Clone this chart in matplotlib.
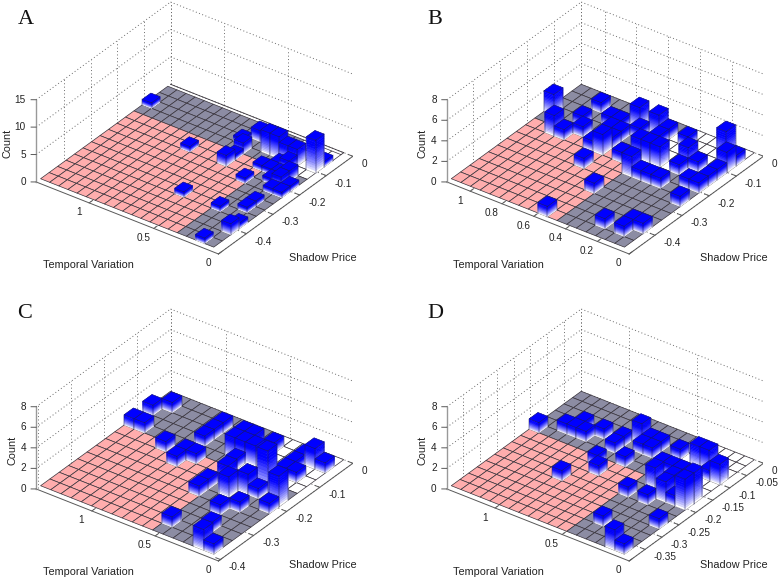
import numpy as np
import matplotlib
matplotlib.use('Agg')
import matplotlib.pyplot as plt
from mpl_toolkits.mplot3d import proj3d
from mpl_toolkits.mplot3d.art3d import Poly3DCollection

plt.rcParams['font.family'] = ['Liberation Sans']

# bars: histogram bin index along each axis (0 = front corner) and count
tv_a = [18,11,7,1,3,0,0,7,8,7,7,7,4,4,2,1,1,0,0,1,1,1,2,3,3,2,0,0,2,3,4,5]
sp_a = [12,9,4,0,4,2,3,13,12,10,11,9,10,8,9,9,8,8,9,5,6,10,10,10,11,11,12,13,12,12,12,12]
n_a = [1,1,1,1,1,2,1,2,1,1,2,2,1,1,1,2,1,1,1,1,1,2,1,1,1,2,6,1,3,3,4,4]

tv_b = [17,15,14,14,13,14,12,11,10,8,11,10,10,9,7,7,5,3,3,2,0,1,0,0,0,0,1,0,3,4,5,6,8,6,5,7,10,11,10,7,8,3,1,1,0]
sp_b = [10,8,8,10,9,12,11,11,12,12,10,10,9,11,12,11,12,10,9,10,11,12,12,10,9,8,8,6,7,7,7,7,8,9,9,9,8,8,6,4,0,1,1,2,2]
n_b = [2,2,1,1,1,1,1,1,2,2,1,1,1,1,1,1,1,2,1,1,2,3,1,1,1,1,1,1,1,1,1,2,1,2,2,2,2,1,1,1,1,1,1,1,1]

tv_c = [16,15,16,15,12,10,10,9,10,10,10,7,7,5,6,6,5,2,6,5,4,3,3,2,0,1,2,3,2,0,2,1,0,2,5,2,1,0,6,6]
sp_c = [11,12,9,9,8,7,8,8,10,11,12,10,11,12,11,10,10,8,9,7,6,7,8,7,7,10,10,4,5,6,11,12,12,12,1,2,0,0,5,6]
n_c = [1,1,1,1,1,1,1,1,1,1,1,2,2,1,2,2,2,4,1,2,2,2,1,1,3,1,1,1,1,1,1,2,1,1,1,1,2,1,1,1]

tv_d = [17,15,14,13,14,12,10,10,8,9,8,7,8,7,5,3,2,0,1,10,9,11,5,4,0,1,0,3,4,2,0,0,3,4,3,5,1]
sp_d = [9,10,10,10,11,11,10,11,9,12,12,12,11,11,12,12,12,11,11,8,7,5,6,2,4,0,0,6,8,7,7,8,9,10,10,10,7]
n_d = [1,1,1,1,1,1,1,1,1,2,1,1,1,1,1,2,2,2,1,1,1,1,1,1,1,2,1,1,2,2,3,3,1,1,1,1,1]

PINK = (1.0, 0.68, 0.68)
GRAY = (0.55, 0.55, 0.64)
WHITE = (1, 1, 1)
EDGE = (0.22, 0.2, 0.23)
AXC = (0.35, 0.35, 0.35)
GRIDC = (0.42, 0.42, 0.42)

W = 325.0  # axes size in pixels


def draw_panel(px, py, letter, letter_x, letter_y, count_x, tv_max, sp_min, z_max, tv_ticks, sp_ticks, z_ticks,
               nx, ny, ic, jc, v1, tv, sp, counts):
    # px, py: shift of the panel from panel A, in pixels
    left = (27.6 + px) / 779
    bottom = 1 - (294.9 + py) / 582
    ax = fig.add_axes([left, bottom, W / 779, W / 582], projection='3d',
                      proj_type='ortho', computed_zorder=False)
    ax.set_box_aspect((1, 1, 0.43))
    ax.view_init(elev=32.4, azim=-53.6)
    ax.set_xlim(tv_max, 0)
    ax.set_ylim(sp_min, 0)
    ax.set_zlim(0, z_max)
    ax.set_xticks([])
    ax.set_yticks([])
    ax.set_zticks([])
    ax.set_axis_off()
    ax.patch.set_visible(False)

    def pt(u, v, z=0.0):
        return tv_max * u, sp_min * (1 - v), z

    def seg(p, q, **kw):
        ax.plot([p[0], q[0]], [p[1], q[1]], [p[2], q[2]], **kw)

    def label(p, s, ha):
        # tick labels stay flat, placed at the projected data point
        x2, y2, _ = proj3d.proj_transform(p[0], p[1], p[2], ax.get_proj())
        ax.text2D(x2, y2, s, transform=ax.transData, ha=ha, va='center', fontsize=7.2,
                  color='#222222', zorder=500)

    # dotted grid on the two back walls and under the floor
    dot = dict(color=GRIDC, lw=0.7, ls=(0, (1, 2.5)), zorder=1)
    for t in tv_ticks:
        seg((t, 0, 0), (t, 0, z_max), **dot)
        seg((t, 0, 0), (t, sp_min, 0), **dot)
    for s in sp_ticks:
        seg((tv_max, s, 0), (tv_max, s, z_max), **dot)
        if abs(s - sp_min) > 0.02:
            seg((tv_max, s, 0), (0, s, 0), **dot)
    seg((tv_max, 0, 0), (tv_max, 0, z_max), **dot)
    for z in z_ticks[1:]:
        seg((tv_max, sp_min, z), (tv_max, 0, z), **dot)
        seg((tv_max, 0, z), (0, 0, z), **dot)

    # coloured floor
    x_edges = np.linspace(0.05 * tv_max, tv_max, nx + 1)
    y_edges = np.linspace(sp_min * (1 - 0.033), sp_min * (1 - v1), ny + 1)
    cells = []
    colors = []
    for i in range(nx):
        for j in range(ny):
            cells.append([(x_edges[i], y_edges[j], 0), (x_edges[i + 1], y_edges[j], 0),
                          (x_edges[i + 1], y_edges[j + 1], 0), (x_edges[i], y_edges[j + 1], 0)])
            if i >= ic and j < jc:
                colors.append(PINK)
            elif i < ic and j >= jc:
                colors.append(WHITE)
            else:
                colors.append(GRAY)
    ax.add_collection3d(Poly3DCollection(cells, facecolors=colors, edgecolors=EDGE,
                                         linewidths=0.5, zorder=2))
    if v1 < 1:
        seg(pt(0.05, 1), pt(1, 1), color=EDGE, lw=0.6, zorder=2)
        seg(pt(0.05, v1), pt(0.05, 1), color=EDGE, lw=0.6, zorder=2)

    # axis lines and ticks
    ax_kw = dict(color=AXC, lw=0.7, zorder=3)
    seg(pt(1, 0), pt(0, 0), **ax_kw)
    seg(pt(0, 0), pt(0, 1), **ax_kw)
    seg(pt(1, 0), pt(1, 0, z_max), color=(0.6, 0.6, 0.6), lw=1.0, zorder=3)
    for t in tv_ticks:
        u = t / tv_max
        seg(pt(u, 0), pt(u, 0.025), **ax_kw)
        label(pt(u - 0.01, -0.09), f'{t:g}', 'center')
    for s in sp_ticks:
        v = 1 - s / sp_min
        seg(pt(0, v), pt(0.025, v), **ax_kw)
        label(pt(-0.069, v - 0.03), f'{s:g}', 'left')
    for z in z_ticks:
        seg(pt(1, 0, z), pt(1.018, -0.013, z), **ax_kw)
        label(pt(1.036, -0.027, z), f'{z:g}', 'right')

    # bars, painted from the back corner to the front corner
    order = sorted(range(len(counts)), key=lambda k: -(tv[k] + sp[k]))
    dx = x_edges[1] - x_edges[0]
    dy = y_edges[1] - y_edges[0]
    for rank, k in enumerate(order):
        x0 = x_edges[tv[k]]
        x1 = x0 + dx
        y0 = y_edges[sp[k]]
        y1 = y0 + dy
        h = counts[k]
        levels = np.linspace(0, h, 15)
        faces = []
        cols = []
        for a, b, f in zip(levels[:-1], levels[1:], np.linspace(0, 1, 14)):
            fade = max(0.0, 1 - 1.2 * f ** 0.8)
            c = (fade, fade, 1.0)
            faces.append([(x0, y0, a), (x1, y0, a), (x1, y0, b), (x0, y0, b)])
            cols.append(c)
            faces.append([(x0, y0, a), (x0, y1, a), (x0, y1, b), (x0, y0, b)])
            cols.append(c)
        faces.append([(x0, y0, h), (x1, y0, h), (x1, y1, h), (x0, y1, h)])
        cols.append((0, 0, 1))
        ax.add_collection3d(Poly3DCollection(faces, facecolors=cols, edgecolors=cols,
                                             linewidths=0.3, zorder=10 + rank))
        ec = dict(color=(0.1, 0.1, 0.35), lw=0.35, zorder=10 + rank)
        ax.plot([x0, x1, x1, x0, x0], [y0, y0, y1, y1, y0], [h] * 5, **ec)
        ax.plot([x0, x0], [y0, y0], [0, h], **ec)
        ax.plot([x1, x1], [y0, y0], [0, h], **ec)
        ax.plot([x0, x0], [y1, y1], [0, h], **ec)

    # labels in figure pixels
    def ftext(x, y, s, **kw):
        fig.text(x / 779, 1 - y / 582, s, ha='center', va='center', **kw)

    ftext(88 + px, 265 + py, 'Temporal Variation', fontsize=7.8, color='#222222')
    ftext(323 + px, 258 + py, 'Shadow Price', fontsize=7.8, color='#222222')
    ftext(count_x, 143 + py, 'Count', fontsize=7.8, rotation=90, color='#222222')
    ftext(letter_x, letter_y, letter, fontsize=16, family='Liberation Serif', color='#111111')


fig = plt.figure(figsize=(7.79, 5.82), dpi=100)

draw_panel(0, 0, 'A', 25.5, 19, 7.5, 1.41, -0.505, 15, [0, 0.5, 1], [0, -0.1, -0.2, -0.3, -0.4], [0, 5, 10, 15],
           19, 15, 4, 11, 0.98, tv_a, sp_a, n_a)
draw_panel(410.7, 0, 'B', 435, 19, 423, 1.147, -0.495, 8, [0, 0.2, 0.4, 0.6, 0.8, 1],
           [0, -0.1, -0.2, -0.3, -0.4], [0, 2, 4, 6, 8],
           18, 14, 7, 9, 1.0, tv_b, sp_b, n_b)
draw_panel(0, 307, 'C', 25, 314, 12.7, 1.44, -0.406, 8, [0, 0.5, 1], [0, -0.1, -0.2, -0.3, -0.4], [0, 2, 4, 6, 8],
           17, 14, 6, 9, 1.0, tv_c, sp_c, n_c)
draw_panel(410.7, 307, 'D', 435, 314, 423, 1.36, -0.397, 8, [0, 0.5, 1],
           [0, -0.05, -0.1, -0.15, -0.2, -0.25, -0.3, -0.35], [0, 2, 4, 6, 8],
           18, 15, 6, 9, 1.0, tv_d, sp_d, n_d)

fig.savefig('out.png', dpi=100)
